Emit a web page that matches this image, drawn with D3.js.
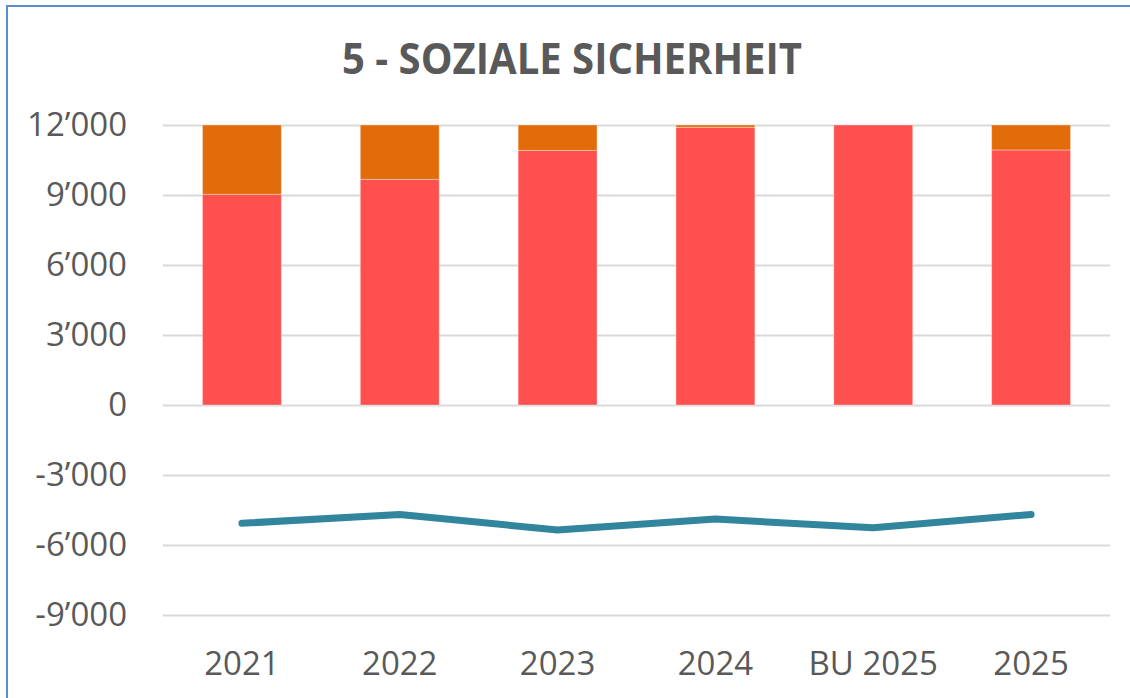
<!DOCTYPE html>
<html>
<head>
<meta charset="utf-8">
<script src="https://cdn.jsdelivr.net/npm/d3@7"></script>
<style>
  body { margin: 0; background: #ffffff; }
  #chart { width: 1130px; height: 698px; }
  text { font-family: "Open Sans", "Noto Sans", sans-serif; fill: #595959; }
</style>
</head>
<body>
<div id="chart"></div>
<script>
// data
var categories = ["2021", "2022", "2023", "2024", "BU 2025", "2025"];
var redValues = [9030, 9670, 10910, 11900, 12000, 10930];
var orangeValues = [2970, 2330, 1090, 100, 0, 1070];
var lineValues = [-5070, -4690, -5360, -4890, -5260, -4690];
var yTicks = [-9000, -6000, -3000, 0, 3000, 6000, 9000, 12000];

var totalWidth = 1130, totalHeight = 698;
var margin = {top: 125, right: 20, bottom: 83, left: 163},
  width = totalWidth - margin.left - margin.right,
  height = totalHeight - margin.top - margin.bottom;

var root = d3.select("#chart")
  .append("svg")
    .attr("width", totalWidth)
    .attr("height", totalHeight);

// blue frame (only top and left edges are visible)
root.append("path")
  .attr("d", "M7,698 L7,6 L1130,6")
  .attr("fill", "none")
  .attr("stroke", "#5b8dd0")
  .attr("stroke-width", 2);

// title
root.append("text")
  .attr("x", 572)
  .attr("y", 74)
  .attr("text-anchor", "middle")
  .attr("font-size", 43)
  .attr("font-weight", "bold")
  .attr("textLength", 460)
  .attr("lengthAdjust", "spacingAndGlyphs")
  .text("5 - SOZIALE SICHERHEIT");

var svg = root.append("g")
  .attr("transform", "translate(" + margin.left + "," + margin.top + ")");

// scales
var x = d3.scaleBand()
  .range([0, width])
  .domain(categories)
  .paddingInner(0.5)
  .paddingOuter(0.25);

var y = d3.scaleLinear()
  .range([height, 0])
  .domain([-9000, 12000]);

var fmt = d3.format(",");
var tickFormat = function(v) {
  return (v < 0 ? "-" : "") + fmt(Math.abs(v)).replace(/,/g, "\u2019");
};

// y axis with gridlines
var yAxis = svg.append("g")
  .call(d3.axisLeft(y).tickValues(yTicks).tickFormat(tickFormat)
    .tickSize(-width).tickPadding(36));
yAxis.select(".domain").remove();
yAxis.selectAll("line").attr("stroke", "#d9d9d9").attr("stroke-width", 2);
yAxis.selectAll("text")
  .attr("font-size", 33)
  .attr("fill", "#595959")
  .style("font-family", "'Open Sans', sans-serif");

// x axis labels
var xAxis = svg.append("g")
  .attr("transform", "translate(0," + height + ")")
  .call(d3.axisBottom(x).tickSize(0).tickPadding(37));
xAxis.select(".domain").remove();
xAxis.selectAll("text")
  .attr("font-size", 33)
  .attr("fill", "#595959")
  .style("font-family", "'Open Sans', sans-serif");

// stacked bars
var table = categories.map(function(c, i) {
  return {cat: c, red: redValues[i], orange: orangeValues[i]};
});
var stacked = d3.stack().keys(["red", "orange"])(table);
var colors = {red: "#ff5050", orange: "#e36c0a"};

svg.selectAll(".layer")
  .data(stacked)
  .enter()
  .append("g")
    .attr("class", "layer")
    .attr("fill", function(d) { return colors[d.key]; })
  .selectAll("rect")
  .data(function(d) { return d; })
  .enter()
  .append("rect")
    .attr("x", function(d) { return x(d.data.cat); })
    .attr("y", function(d) { return y(d[1]); })
    .attr("width", x.bandwidth())
    .attr("height", function(d) { return y(d[0]) - y(d[1]); })
    .attr("stroke", "#ffffff")
    .attr("stroke-opacity", 0.35)
    .attr("stroke-width", 1);

// line
var line = d3.line()
  .x(function(d, i) { return x(categories[i]) + x.bandwidth() / 2; })
  .y(function(d) { return y(d); });

svg.append("path")
  .datum(lineValues)
  .attr("d", line)
  .attr("fill", "none")
  .attr("stroke", "#31859c")
  .attr("stroke-width", 7)
  .attr("stroke-linecap", "round")
  .attr("stroke-linejoin", "round");
</script>
</body>
</html>
